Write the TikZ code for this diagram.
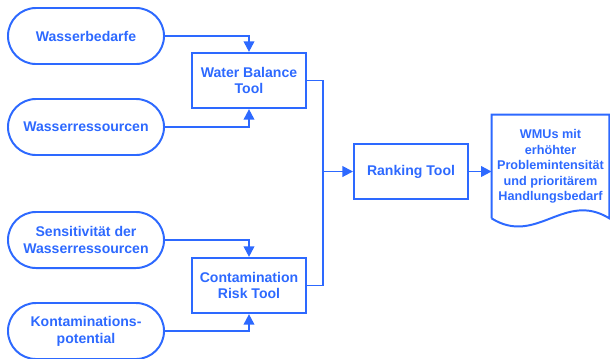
\documentclass[tikz,border=0pt]{standalone}
\usepackage{fontspec}
\setmainfont{Liberation Sans}
\usetikzlibrary{arrows.meta}
\definecolor{wmublue}{RGB}{45,105,255}
\begin{document}
\begin{tikzpicture}
    [
    x=0.025cm,y=-0.025cm,
    every node/.style={text=wmublue,font=\bfseries,align=center},
    term/.style={draw=wmublue,line width=1.4pt,rounded corners=0.7cm,minimum width=3.9cm,minimum height=1.4cm,inner sep=0pt},
    tool/.style={draw=wmublue,line width=1.4pt,minimum width=2.85cm,minimum height=1.38cm,inner sep=0pt},
    doc/.style={minimum width=2.93cm,minimum height=2.58cm,inner sep=0pt,font=\bfseries\fontsize{9}{11}\selectfont},
    link/.style={draw=wmublue,line width=1.4pt},
    arr/.style={link,-{Triangle[length=7.5pt,width=7.5pt]}}
    ]
    \useasboundingbox (0,0) rectangle (610,358);
    \node (WB) at (86,36) [term] {Wasserbedarfe};
    \node (WR) at (86,127) [term] {Wasserressourcen};
    \node (SW) at (86,240) [term] {Sensitivität der\\Wasserressourcen};
    \node (KP) at (86,331) [term] {Kontaminations-\\potential};
    \node (WBT) at (249,80.5) [tool] {Water Balance\\Tool};
    \node (CRT) at (249,285.5) [tool] {Contamination\\Risk Tool};
    \node (RT) at (411,171.5) [tool] {Ranking Tool};
    \node (OUT) at (550.5,166.5) [doc] {WMUs mit\\erhöhter\\Problemintensität\\und prioritärem\\Handlungsbedarf};
    \coordinate (J) at (323,171.5);
    \draw [arr] (WB) -| (WBT);
    \draw [arr] (WR) -| (WBT);
    \draw [arr] (SW) -| (CRT);
    \draw [arr] (KP) -| (CRT);
    \draw [link] (WBT) -| (J);
    \draw [link] (CRT) -| (J);
    \draw [arr] (J) -- (RT);
    \draw [arr] (RT) -- (RT -| OUT.west);
    % document outline
    \draw [link] (OUT.south west) -- (OUT.north west) -- (OUT.north east) -- (OUT.south east)
      .. controls ([shift={(-45,-28)}]OUT.south east) and ([shift={(45,28)}]OUT.south west) .. (OUT.south west);
\end{tikzpicture}
\end{document}
